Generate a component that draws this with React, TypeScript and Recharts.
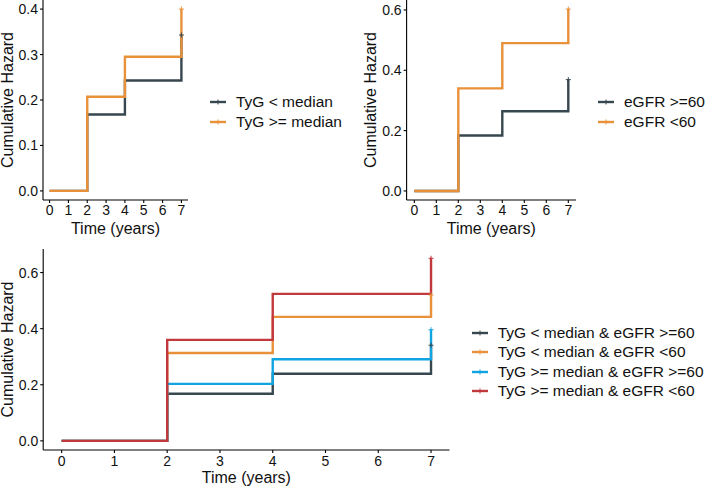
import React from 'react';
import { Legend, Line, LineChart, XAxis, YAxis } from 'recharts';

// follow-up times where the curves step
const times = [0, 2, 4, 7];
const xTicks = [0, 1, 2, 3, 4, 5, 6, 7];

const tygLow = [0, 0.168, 0.243, 0.343];
const tygHigh = [0, 0.207, 0.295, 0.4];
const egfrHigh = [0, 0.184, 0.264, 0.369];
const egfrLow = [0, 0.34, 0.49, 0.603];
const lowTygHighEgfr = [0, 0.168, 0.239, 0.341];
const lowTygLowEgfr = [0, 0.313, 0.442, 0.52];
const highTygHighEgfr = [0, 0.203, 0.291, 0.396];
const highTygLowEgfr = [0, 0.36, 0.524, 0.651];

const topLeftTicks = [0, 0.1, 0.2, 0.3, 0.4];
const topRightTicks = [0, 0.2, 0.4, 0.6];
const bottomTicks = [0, 0.2, 0.4, 0.6];

const DARK = '#37474f';
const ORANGE = '#e8913a';
const BLUE = '#10a5e0';
const RED = '#c1393c';
const FONT = '"Liberation Sans", Arial, sans-serif';

type Series = { key: string; name: string; color: string; values: number[] };

const tygSeries: Series[] = [
  { key: 'low', name: 'TyG < median', color: DARK, values: tygLow },
  { key: 'high', name: 'TyG >= median', color: ORANGE, values: tygHigh }
];
const egfrSeries: Series[] = [
  { key: 'high', name: 'eGFR >=60', color: DARK, values: egfrHigh },
  { key: 'low', name: 'eGFR <60', color: ORANGE, values: egfrLow }
];
const comboSeries: Series[] = [
  { key: 'a', name: 'TyG < median & eGFR >=60', color: DARK, values: lowTygHighEgfr },
  { key: 'b', name: 'TyG < median & eGFR <60', color: ORANGE, values: lowTygLowEgfr },
  { key: 'c', name: 'TyG >= median & eGFR >=60', color: BLUE, values: highTygHighEgfr },
  { key: 'd', name: 'TyG >= median & eGFR <60', color: RED, values: highTygLowEgfr }
];

const buildRows = (series: Series[]) =>
  times.map((t, i) => {
    const row: Record<string, number> = { t };
    series.forEach((s) => (row[s.key] = s.values[i]));
    return row;
  });

const censorDot = (color: string) => (props: any) => {
  const { cx, cy, index } = props;
  if (index !== times.length - 1 || cx == null) return <g key={`d${index}`} />;
  return (
    <path
      key={`d${index}`}
      d={`M${cx - 2.5},${cy}h5M${cx},${cy - 2.5}v5`}
      stroke={color}
      strokeWidth={1}
      fill="none"
    />
  );
};

type PanelProps = {
  left: number;
  top: number;
  width: number;
  height: number;
  margin: { top: number; right: number; bottom: number; left: number };
  yWidth: number;
  xHeight: number;
  yDomain: [number, number];
  yTicks: number[];
  yLabelOffset: number;
  xLabelOffset: number;
  xTickMargin: number;
  series: Series[];
  legendLeft: number;
  legendTop: number;
  legendRow: number;
};

function KMPanel(p: PanelProps) {
  const axisStyle = { stroke: '#000', strokeWidth: 1.1 };
  const tickStyle = { fontSize: 14, fill: '#111', fontFamily: FONT };
  return (
    <div style={{ position: 'absolute', left: p.left, top: p.top }}>
      <LineChart width={p.width} height={p.height} data={buildRows(p.series)} margin={p.margin}>
        <XAxis
          dataKey="t"
          type="number"
          domain={[-0.35, 7.35]}
          ticks={xTicks}
          interval={0}
          allowDataOverflow
          height={p.xHeight}
          axisLine={axisStyle}
          tickLine={axisStyle}
          tickSize={3}
          tickMargin={p.xTickMargin}
          tick={tickStyle}
          label={{
            value: 'Time (years)',
            position: 'insideBottom',
            offset: p.xLabelOffset,
            style: { fontSize: 16, fill: '#111', fontFamily: FONT }
          }}
        />
        <YAxis
          type="number"
          domain={p.yDomain}
          ticks={p.yTicks}
          interval={0}
          allowDataOverflow
          width={p.yWidth}
          axisLine={axisStyle}
          tickLine={axisStyle}
          tickSize={3}
          tickMargin={2}
          tick={tickStyle}
          tickFormatter={(v: number) => v.toFixed(1)}
          label={{
            value: 'Cumulative Hazard',
            angle: -90,
            position: 'insideLeft',
            offset: p.yLabelOffset,
            style: { fontSize: 16, fill: '#111', fontFamily: FONT, textAnchor: 'middle' }
          }}
        />
        {p.series.map((s) => (
          <Line
            key={s.key}
            type="stepAfter"
            dataKey={s.key}
            name={s.name}
            stroke={s.color}
            strokeWidth={2.4}
            dot={censorDot(s.color)}
            activeDot={false}
            isAnimationActive={false}
          />
        ))}
        <Legend
          layout="horizontal"
          verticalAlign="middle"
          align="center"
          wrapperStyle={{ left: p.legendLeft, top: p.legendTop, width: 240, height: 'auto' }}
          content={() => (
            <div style={{ fontFamily: FONT, fontSize: 15.5, color: '#111' }}>
              {p.series.map((s) => (
                <div
                  key={s.key}
                  style={{ display: 'flex', alignItems: 'center', height: p.legendRow, whiteSpace: 'nowrap' }}
                >
                  <svg width={26} height={10} style={{ flex: 'none' }}>
                    <line x1={0} x2={16} y1={5} y2={5} stroke={s.color} strokeWidth={2.4} />
                    <line x1={8} x2={8} y1={2.5} y2={7.5} stroke={s.color} strokeWidth={1} />
                  </svg>
                  <span>{s.name}</span>
                </div>
              ))}
            </div>
          )}
        />
      </LineChart>
    </div>
  );
}

export default function App() {
  return (
    <div
      style={{
        position: 'absolute',
        left: 0,
        top: 0,
        width: 706,
        height: 487,
        background: '#fff',
        fontFamily: FONT
      }}
    >
      <KMPanel
        left={0}
        top={0}
        width={360}
        height={240}
        margin={{ top: 0, right: 172, bottom: 0, left: 0 }}
        yWidth={43}
        xHeight={40}
        yDomain={[-0.02, 0.42]}
        yTicks={topLeftTicks}
        yLabelOffset={7.5}
        xLabelOffset={6.5}
        xTickMargin={2}
        series={tygSeries}
        legendLeft={210}
        legendTop={92}
        legendRow={20}
      />
      <KMPanel
        left={360}
        top={0}
        width={346}
        height={240}
        margin={{ top: 0, right: 130, bottom: 0, left: 0 }}
        yWidth={46.6}
        xHeight={40}
        yDomain={[-0.03, 0.633]}
        yTicks={topRightTicks}
        yLabelOffset={10}
        xLabelOffset={6.5}
        xTickMargin={2}
        series={egfrSeries}
        legendLeft={238}
        legendTop={92}
        legendRow={20}
      />
      <KMPanel
        left={0}
        top={240}
        width={706}
        height={247}
        margin={{ top: 9, right: 256.5, bottom: 0, left: 0 }}
        yWidth={43.2}
        xHeight={37}
        yDomain={[-0.0326, 0.684]}
        yTicks={bottomTicks}
        yLabelOffset={7}
        xLabelOffset={4.5}
        xTickMargin={3}
        series={comboSeries}
        legendLeft={471.7}
        legendTop={83.5}
        legendRow={19.3}
      />
    </div>
  );
}
